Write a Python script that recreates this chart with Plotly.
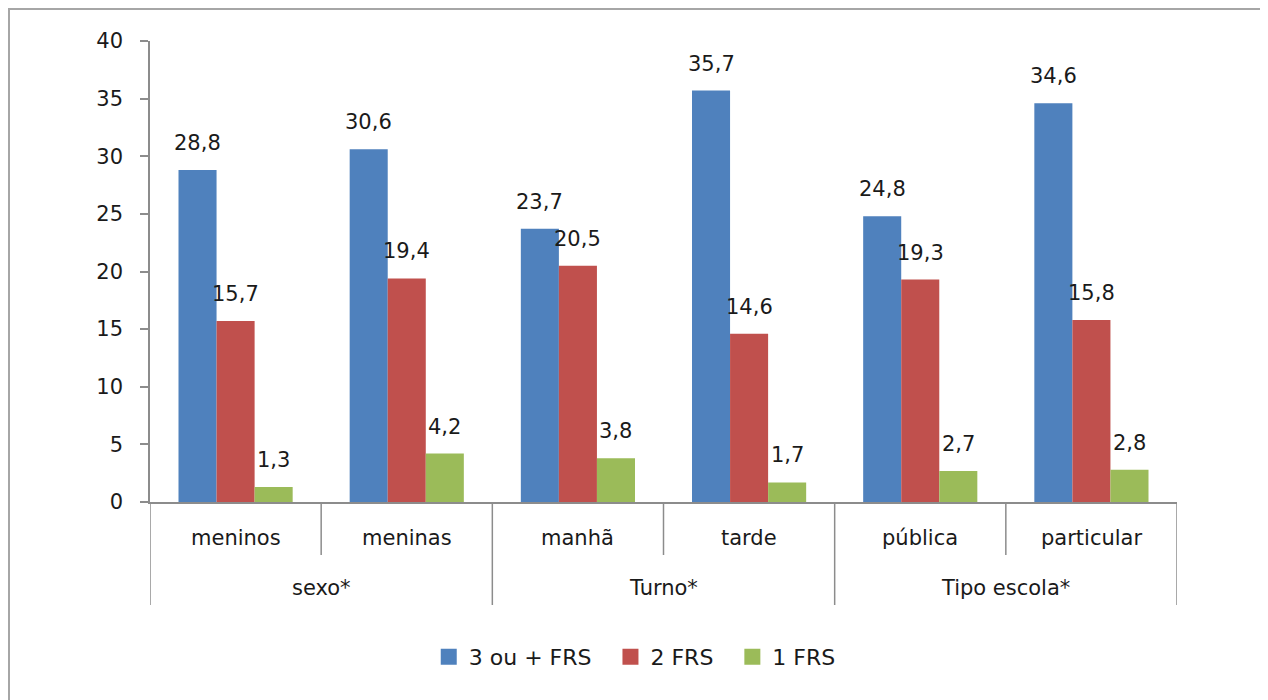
import plotly.graph_objects as go

groups = ["sexo*", "Turno*", "Tipo escola*"]
categories = ["meninos", "meninas", "manhã", "tarde", "pública", "particular"]
series_names = ["3 ou + FRS", "2 FRS", "1 FRS"]
v3 = [28.8, 30.6, 23.7, 35.7, 24.8, 34.6]
v2 = [15.7, 19.4, 20.5, 14.6, 19.3, 15.8]
v1 = [1.3, 4.2, 3.8, 1.7, 2.7, 2.8]
colors = ["#4F81BD", "#C0504D", "#9BBB59"]
y_ticks = [0, 5, 10, 15, 20, 25, 30, 35, 40]

FONT = "DejaVu Sans"
TXT = "#1a1a1a"
GRAY = "#8c8c8c"
FS = 21

fig = go.Figure()
series = [v3, v2, v1]
for name, vals, col in zip(series_names, series, colors):
    fig.add_trace(go.Bar(x=categories, y=vals, name=name, marker=dict(color=col, line=dict(width=0)),
                         showlegend=False, hoverinfo="x+y"))
# legend proxies
for i, (name, col) in enumerate(zip(series_names, colors)):
    pad = "\u00a0\u00a0" if i < len(series_names) - 1 else ""
    fig.add_trace(go.Scatter(x=[None], y=[None], mode="markers", name=name + pad,
                             marker=dict(symbol="square", size=16, color=col)))

annotations = []
offsets = [-38, 0, 38]
for vals, off in zip(series, offsets):
    for c, v in zip(categories, vals):
        annotations.append(dict(x=c, y=v, xref="x", yref="y", xshift=off, yshift=13,
                                text=f"{v:.1f}".replace(".", ","), showarrow=False,
                                yanchor="bottom", font=dict(family=FONT, size=FS, color=TXT)))
for c in categories:
    annotations.append(dict(x=c, y=-0.078, xref="x", yref="paper", text=c, showarrow=False,
                            yanchor="middle", font=dict(family=FONT, size=FS, color=TXT)))
for i, g in enumerate(groups):
    annotations.append(dict(x=2 * i + 0.5, y=-0.187, xref="x", yref="paper", text=g, showarrow=False,
                            yanchor="middle", font=dict(family=FONT, size=FS, color=TXT)))

shapes = []
for i in range(len(groups)):
    shapes.append(dict(type="line", xref="x", yref="paper", x0=2 * i + 0.5, x1=2 * i + 0.5,
                       y0=0, y1=-0.115, line=dict(color=GRAY, width=1.5)))
for i in range(len(groups) + 1):
    shapes.append(dict(type="line", xref="x", yref="paper", x0=2 * i - 0.5, x1=2 * i - 0.5,
                       y0=0, y1=-0.2234, line=dict(color=GRAY, width=1.5)))
# chart frame
shapes.append(dict(type="rect", xref="paper", yref="paper", x0=-0.1373, x1=1.2, y0=-0.5, y1=1.0694,
                   line=dict(color="#a6a6a6", width=2), fillcolor="rgba(0,0,0,0)"))

fig.update_layout(
    width=1268, height=700,
    margin=dict(l=142, r=99, t=33, b=206),
    paper_bgcolor="white", plot_bgcolor="white",
    barmode="group", bargap=0.333, bargroupgap=0,
    font=dict(family=FONT, size=FS, color=TXT),
    xaxis=dict(range=[-0.5, 5.5], showticklabels=False, showline=True, linecolor=GRAY, linewidth=1.5,
               ticks="", showgrid=False, zeroline=False, fixedrange=True),
    yaxis=dict(range=[0, 40], tickvals=y_ticks, ticktext=[str(t) for t in y_ticks], showline=True,
               linecolor=GRAY, linewidth=1.5, ticks="outside", ticklen=8, tickcolor=GRAY, tickwidth=1.5,
               showgrid=False, zeroline=False, ticklabelstandoff=13,
               tickfont=dict(family=FONT, size=FS, color=TXT)),
    legend=dict(orientation="h", x=0.472, xanchor="center", y=-0.336, yanchor="middle",
                font=dict(family=FONT, size=22, color=TXT), bgcolor="rgba(0,0,0,0)"),
    annotations=annotations, shapes=shapes,
)

fig.write_html("out.html")
